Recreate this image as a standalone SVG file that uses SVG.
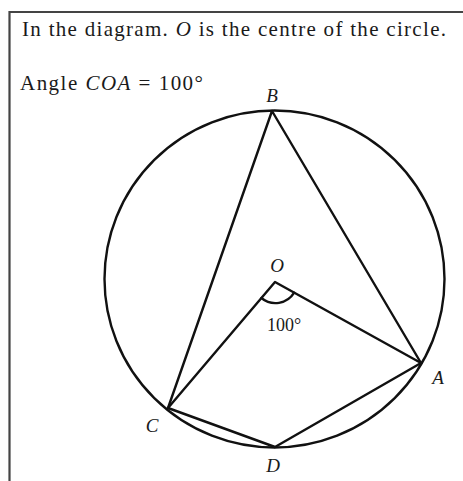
<svg xmlns="http://www.w3.org/2000/svg" width="463" height="481" viewBox="0 0 463 481">
<style>
.ln{stroke:#111;stroke-width:2.4;fill:none;stroke-linecap:round;stroke-linejoin:round}
.t{font-family:"Liberation Serif","Times New Roman",serif;fill:#1a1a1a}
.lab{font-family:"Liberation Serif","Times New Roman",serif;font-style:italic;font-size:19px;fill:#1a1a1a;text-anchor:middle}
</style>
<rect width="463" height="481" fill="#fff"/>
<g id="frame">
<path d="M9.5 481 V12 H463" stroke="#444" stroke-width="2.2" fill="none"/>
</g>
<g id="header">
<text class="t" x="22" y="36" font-size="21" textLength="424" lengthAdjust="spacing">In the diagram. <tspan font-style="italic">O</tspan> is the centre of the circle.</text>
<text class="t" x="20" y="90" font-size="21" textLength="183" lengthAdjust="spacing">Angle <tspan font-style="italic">COA</tspan> = 100°</text>
</g>
<g id="circle">
<ellipse class="ln" cx="274.5" cy="279" rx="170" ry="168.5"/>
</g>
<g id="connectors">
<polyline class="ln" points="168,408 272,111 421,363"/>
<polyline class="ln" points="168,408 275,282 421,363"/>
<polyline class="ln" points="168,408 275,447 421,363"/>
<path class="ln" d="M261.4,298 A22 22 0 0 0 294.2,292.7" stroke-width="2"/>
</g>
<g id="labels">
<text class="lab" x="272" y="102">B</text>
<text class="lab" x="277" y="272">O</text>
<text class="t" x="284" y="331" font-size="18" text-anchor="middle">100°</text>
<text class="lab" x="438" y="384">A</text>
<text class="lab" x="152" y="432">C</text>
<text class="lab" x="273" y="472">D</text>
</g>
</svg>
